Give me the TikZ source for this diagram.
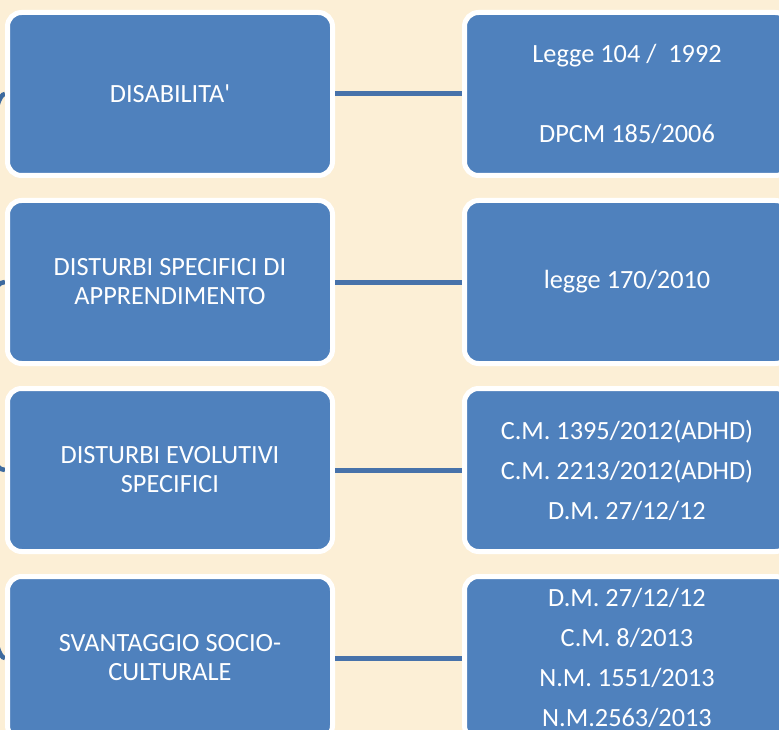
\documentclass[tikz,border=0pt]{standalone}
\usepackage{fontspec}
\setmainfont{Carlito}
\usetikzlibrary{calc,backgrounds}
\definecolor{bg}{HTML}{FCEFD6}
\definecolor{boxblue}{HTML}{4F81BD}
\definecolor{linkblue}{HTML}{4772AA}
\definecolor{arcblue}{HTML}{3D6A9F}
\begin{document}
\begin{tikzpicture}[x=1pt,y=-1pt,
  cat/.style={rectangle, rounded corners=14pt, fill=boxblue, draw=white, line width=5pt,
    minimum width=325pt, minimum height=163pt, text=white, align=center,
    font=\fontsize{26.3}{29}\selectfont, inner sep=0pt},
  law/.style={cat, font=\fontsize{26.3}{40}\selectfont},
  link/.style={draw=linkblue, line width=5pt},
  arcline/.style={draw=arcblue, line width=4.5pt}]
\useasboundingbox (0,0) rectangle (779,730);
\coordinate (par) at (-38,376);
% categories
\node[cat] (b1) at (170,94) {DISABILITA\textquotesingle};
\node[cat] (b2) at (170,282) {DISTURBI SPECIFICI DI\\APPRENDIMENTO};
\node[cat] (b3) at (170,470) {DISTURBI EVOLUTIVI\\SPECIFICI};
\node[cat] (b4) at (170,658) {SVANTAGGIO SOCIO-\\CULTURALE};
% laws
\node[law] (r1) at (627,94) {Legge 104 /\ \ 1992\\[40pt]DPCM 185/2006};
\node[law] (r2) at (627,282) {legge 170/2010};
\node[law] (r3) at (627,470) {C.M. 1395/2012(ADHD)\\C.M. 2213/2012(ADHD)\\D.M. 27/12/12};
\node[law] (r4) at (627,658) {D.M. 27/12/12\\C.M. 8/2013\\N.M. 1551/2013\\N.M.2563/2013};
% links
\foreach \i in {1,2,3,4} {
  \draw[link] (b\i.east) -- (r\i.west);
}
\begin{pgfonlayer}{background}
\fill[bg] (0,0) rectangle (779,730);
\foreach \i in {1,2,3,4} {
  \draw[arcline] (par) .. controls ($(par)+(24,0)$) and ($(b\i.west)+(-24,0)$) .. (b\i.west);
}
\end{pgfonlayer}
\end{tikzpicture}
\end{document}
